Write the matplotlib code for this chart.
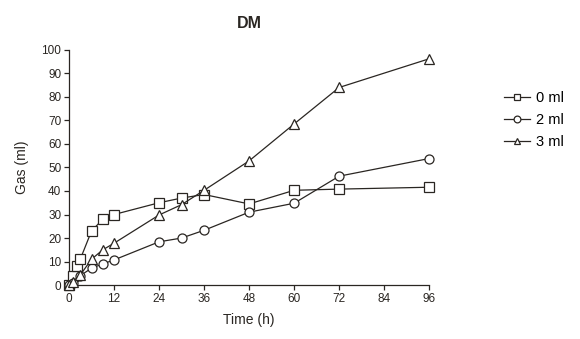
import numpy as np
import matplotlib.pyplot as plt

plt.rcParams['font.family'] = ['Liberation Sans', 'DejaVu Sans']

# Datos
t_0ml = [0, 1, 2, 3, 6, 9, 12, 24, 30, 36, 48, 60, 72, 96]
gas_0ml = [0, 4, 8, 11, 23, 28, 30, 35, 37, 38.5, 34.5, 40.3, 40.8, 41.6]

t_2ml = [0, 1, 3, 6, 9, 12, 24, 30, 36, 48, 60, 72, 96]
gas_2ml = [0, 1, 4, 7.2, 9, 10.7, 18.4, 20, 23.3, 31, 34.8, 46.3, 53.8]

t_3ml = [0, 1, 3, 6, 9, 12, 24, 30, 36, 48, 60, 72, 96]
gas_3ml = [0, 1.5, 4.3, 11, 15, 17.8, 29.8, 34.2, 40.3, 52.8, 68.5, 84, 96.2]

etiquetas = ['0 ml', '2 ml', '3 ml']
marcadores = ['s', 'o', '^']
xticks = np.arange(0, 97, 12)
yticks = np.arange(0, 101, 10)

fig = plt.figure(figsize=(5.8, 3.39), dpi=100)
ax = fig.add_axes([0.119, 0.159, 0.621, 0.694])

series = [(t_0ml, gas_0ml), (t_2ml, gas_2ml), (t_3ml, gas_3ml)]
for (t, g), lab, m in zip(series, etiquetas, marcadores):
    ax.plot(t, g, color='#2a2622', linewidth=0.9, marker=m, markersize=6.5,
            markerfacecolor='white', markeredgecolor='#2a2622',
            markeredgewidth=0.9, label=lab, clip_on=False, zorder=3)

ax.set_xlim(0, 96)
ax.set_ylim(0, 100)
ax.set_xticks(xticks)
ax.set_yticks(yticks)
ax.spines['top'].set_visible(False)
ax.spines['right'].set_visible(False)
for s in ['left', 'bottom']:
    ax.spines[s].set_color('#2a2622')
    ax.spines[s].set_linewidth(0.9)
ax.tick_params(direction='out', length=3.5, width=0.9, labelsize=8.5,
               colors='#2a2622', pad=2)

ax.set_xlabel('Time (h)', fontsize=10, color='#2a2622', labelpad=6)
ax.set_ylabel('Gas (ml)', fontsize=10, color='#2a2622', labelpad=9)
ax.set_title('DM', fontsize=11.5, fontweight='bold', color='#2a2622', pad=16)

ax.legend(loc='upper left', bbox_to_anchor=(1.17, 0.88), frameon=False,
          fontsize=10.5, handlelength=1.8, markerscale=0.75, labelspacing=0.55,
          handletextpad=0.4)

fig.savefig('out.png', dpi=100, facecolor='white')
